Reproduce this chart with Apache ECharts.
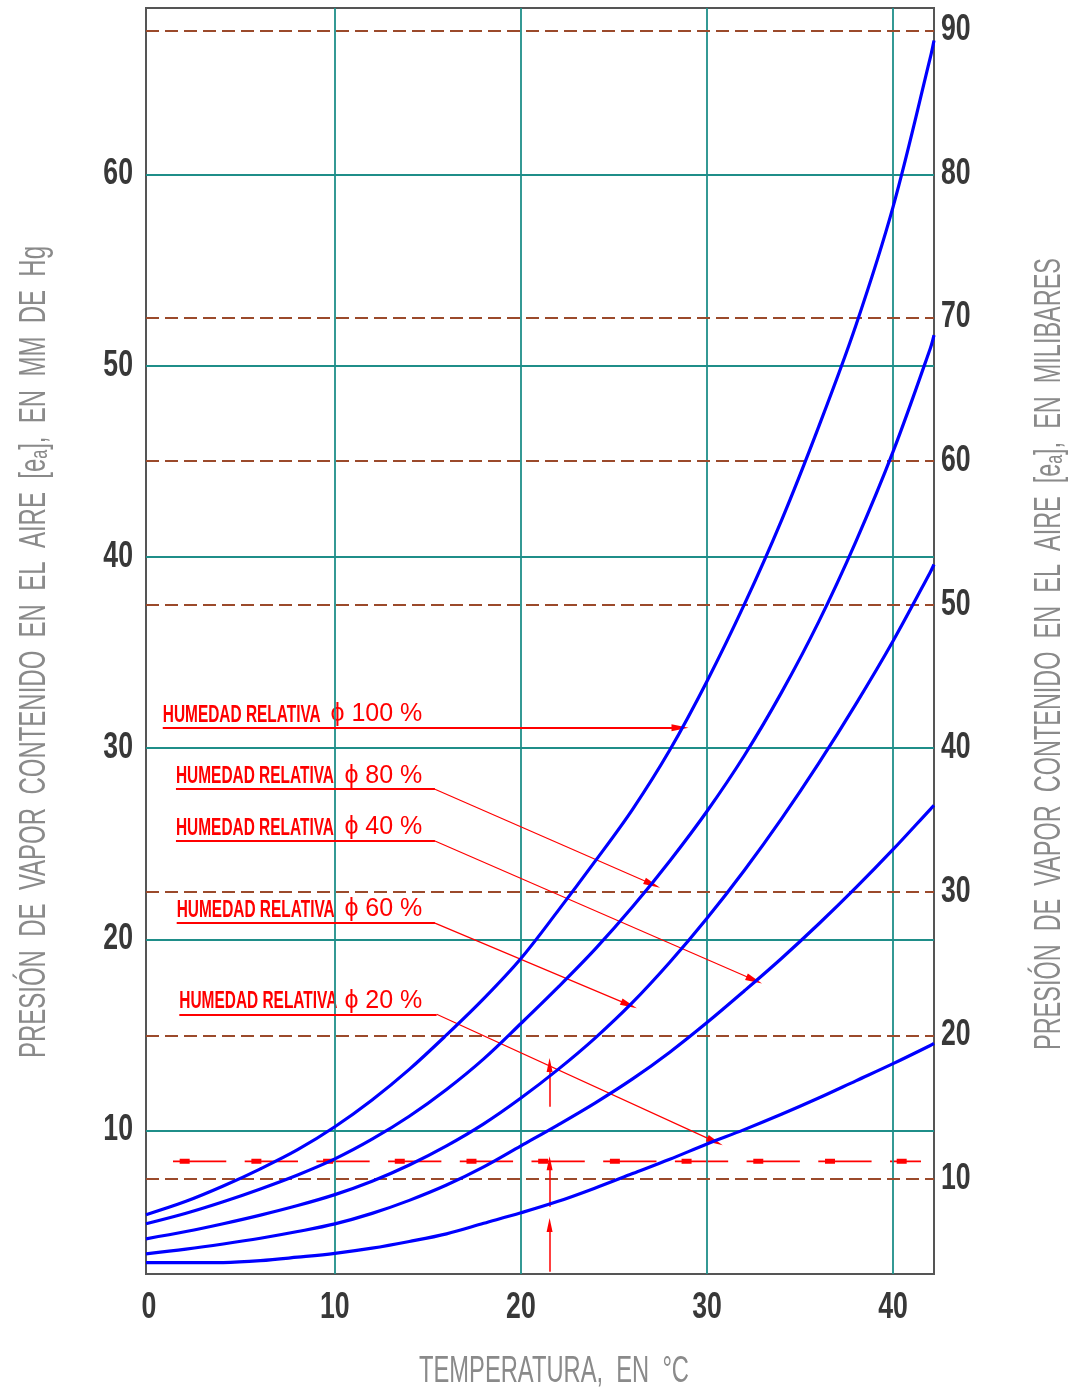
<!DOCTYPE html>
<html>
<head>
<meta charset="utf-8">
<script src="https://cdn.jsdelivr.net/npm/echarts@6/dist/echarts.min.js"></script>
<style>html,body{margin:0;padding:0;background:#fff}#c{width:1081px;height:1395px}</style>
</head>
<body>
<div id="c"></div>
<script>
// ---- data (temperature in °C, vapour pressure in mm Hg) ----
const temps = [-0.15,2,4,6,8,10,12,14,16,18,20,22,24,26,28,30,32,34,36,38,40,42,42.2];
const rh100 = [5.6,6.3,7.1,8.0,9.0,10.2,11.6,13.2,15.0,16.9,19.0,21.5,24.1,26.8,29.9,33.5,37.5,41.9,46.8,52.1,58.3,66.1,67.0];
const rh80  = [5.13,5.68,6.28,6.95,7.68,8.52,9.55,10.75,12.15,13.75,15.6,17.5,19.5,21.7,24.1,26.7,29.6,32.9,36.6,40.8,45.5,50.9,51.6];
const rh60  = [4.34,4.72,5.13,5.58,6.08,6.65,7.35,8.2,9.2,10.35,11.7,13.2,14.85,16.7,18.8,21.1,23.6,26.3,29.2,32.3,35.6,39.2,39.6];
const rh40  = [3.55,3.8,4.07,4.37,4.72,5.12,5.67,6.35,7.15,8.1,9.2,10.3,11.45,12.7,14.1,15.65,17.3,19.0,20.8,22.7,24.7,26.8,27.0];
const rh20  = [3.09,3.09,3.1,3.2,3.38,3.58,3.85,4.2,4.6,5.15,5.7,6.3,7.0,7.75,8.5,9.3,10.05,10.85,11.7,12.6,13.5,14.45,14.56];

// axis ticks / grid values
const xTickLabels   = [0,10,20,30,40];
const xGrid         = [10,20,30,40];
const mmTickLabels  = [10,20,30,40,50,60];
const mmGrid        = [10,20,30,40,50,60];
const mbarTickLabels= [10,20,30,40,50,60,70,80,90];
const mbarDashed    = [10,20,30,50,60,70,90];

// annotations (data coordinates)
const dewLineT = [1.3, 41.5];
const dewLineV = 8.39;
const arrowT = 21.54;
const arrowFrom = [2.62, 6.02, 11.25];
const arrowTo   = [5.06, 8.29, 13.43];

const leaderText   = ['100 %','80 %','40 %','60 %','20 %'];
const leaderV      = [31.07, 27.85, 25.14, 20.85, 16.08];
const leaderStartT = [0.75, 1.46, 1.46, 1.5, 1.64];
const leaderKinkT  = [28.55, 15.38, 15.38, 15.38, 15.47];
const leaderTipT   = [28.55, 27.06, 32.54, 25.81, 30.43];
const leaderTipV   = [31.07, 22.88, 17.87, 16.57, 9.42];
const labelRightT  = 14.7;

const TEAL = '#1F8E89', BROWN = '#9B4A2B', RED = '#FF0000', BLUE = '#0000FF';
const TXTFONT = "'Liberation Sans',Arial,sans-serif";

const chart = echarts.init(document.getElementById('c'));

function curve(name, vals) {
  return {
    name: name, type: 'line', xAxisIndex: 0, yAxisIndex: 0,
    data: temps.map((t, i) => [t, vals[i]]),
    symbol: 'none', showSymbol: false, smooth: 0.35, silent: true, z: 5,
    lineStyle: { color: BLUE, width: 3.2 }
  };
}

const markLines = [];
for (let i = 0; i < arrowFrom.length; i++) {
  markLines.push([
    { coord: [arrowT, arrowFrom[i]], lineStyle: { color: RED, width: 1.5, type: 'solid' } },
    { coord: [arrowT, arrowTo[i]], symbol: 'triangle', symbolSize: [6, 14] }
  ]);
}
for (let i = 0; i < leaderV.length; i++) {
  if (leaderKinkT[i] === leaderTipT[i]) {
    markLines.push([
      { coord: [leaderStartT[i], leaderV[i]], lineStyle: { color: RED, width: 2, type: 'solid' } },
      { coord: [leaderTipT[i], leaderTipV[i]], symbol: 'triangle', symbolSize: [7, 17] }
    ]);
  } else {
    markLines.push([
      { coord: [leaderStartT[i], leaderV[i]], lineStyle: { color: RED, width: 2, type: 'solid' } },
      { coord: [leaderKinkT[i], leaderV[i]] }
    ]);
    markLines.push([
      { coord: [leaderKinkT[i], leaderV[i]], lineStyle: { color: RED, width: 1.2, type: 'solid' } },
      { coord: [leaderTipT[i], leaderTipV[i]], symbol: 'triangle', symbolSize: [7, 17] }
    ]);
  }
}

const hiddenAxisParts = { axisLine: { show: false }, axisTick: { show: false }, splitLine: { show: false }, axisLabel: { show: false } };

const option = {
  animation: false,
  backgroundColor: '#fff',
  grid: { left: 146, top: 8, width: 788, height: 1266, show: true, borderColor: '#555', borderWidth: 2, backgroundColor: '#fff' },
  xAxis: Object.assign({ type: 'value', min: -0.15, max: 42.2 }, hiddenAxisParts),
  yAxis: [
    Object.assign({ type: 'value', position: 'left', min: 2.5, max: 68.7 }, hiddenAxisParts),
    Object.assign({ type: 'value', position: 'right', min: 3.38, max: 91.55 }, hiddenAxisParts)
  ],
  series: [
    {
      type: 'line', data: [], z: 1, silent: true,
      markLine: {
        symbol: ['none', 'none'], silent: true, animation: false,
        label: { show: false }, emphasis: { disabled: true },
        lineStyle: { color: TEAL, width: 1.8, type: 'solid' },
        data: xGrid.map(v => ({ xAxis: v })).concat(mmGrid.map(v => ({ yAxis: v })))
      }
    },
    {
      type: 'line', data: [], yAxisIndex: 1, z: 2, silent: true,
      markLine: {
        symbol: ['none', 'none'], silent: true, animation: false,
        label: { show: false }, emphasis: { disabled: true },
        lineStyle: { color: BROWN, width: 2, type: [13, 6] },
        data: mbarDashed.map(v => ({ yAxis: v }))
      }
    },
    {
      type: 'line', data: dewLineT.map(t => [t, dewLineV]), symbol: 'none', silent: true, z: 3,
      lineStyle: { color: RED, width: 1.6, type: [53.3, 18.4] }
    },
    {
      type: 'line', data: dewLineT.map(t => [t, dewLineV]), symbol: 'none', silent: true, z: 3,
      lineStyle: { color: RED, width: 5, type: [10, 61.7], dashOffset: 65 }
    },
    {
      type: 'line', data: [], z: 4, silent: true,
      markLine: {
        symbol: ['none', 'none'], silent: true, animation: false,
        label: { show: false }, emphasis: { disabled: true },
        itemStyle: { color: RED },
        lineStyle: { color: RED, type: 'solid' },
        data: markLines
      }
    },
    curve('100%', rh100),
    curve('80%', rh80),
    curve('60%', rh60),
    curve('40%', rh40),
    curve('20%', rh20)
  ]
};
chart.setOption(option);

// ---- texts ----
const ctx = document.createElement('canvas').getContext('2d');
function textW(text, size, fam, weight) { ctx.font = (weight || 'normal') + ' ' + size + 'px ' + fam; return ctx.measureText(text).width; }
const toPx = (t, v) => chart.convertToPixel({ xAxisIndex: 0, yAxisIndex: 0 }, [t, v]);
const mbarToPy = (m) => chart.convertToPixel({ yAxisIndex: 1 }, m);

const graphics = [];

// tick labels (positions come from the axes' scales)
const NUM_SIZE = 36, NUM_COLOR = '#383838', NUM_SCALE = 0.74;
function numText(str, x, y, align) {
  return { type: 'text', x: x, y: y, scaleX: NUM_SCALE, silent: true,
    style: { text: str, fontFamily: TXTFONT, fontSize: NUM_SIZE, fontWeight: 'bold', fill: NUM_COLOR, align: align, verticalAlign: 'middle' } };
}
const gridRect = chart.getModel().getComponent('grid').coordinateSystem.getRect();
const bottomY = gridRect.y + gridRect.height;
const leftX = gridRect.x, rightX = gridRect.x + gridRect.width;
xTickLabels.forEach(v => { graphics.push(numText(String(v), toPx(v, 10)[0], bottomY + 34, 'center')); });
mmTickLabels.forEach(v => { graphics.push(numText(String(v), leftX - 13, toPx(10, v)[1], 'right')); });
mbarTickLabels.forEach(v => { graphics.push(numText(String(v), rightX + 7, mbarToPy(v), 'left')); });

// relative humidity labels
const HR = 'HUMEDAD RELATIVA';
const hrScale = 158 / textW(HR, 24, TXTFONT, 'bold');
const labRight = toPx(labelRightT, 10)[0];
for (let i = 0; i < leaderV.length; i++) {
  const p = toPx(leaderStartT[i], leaderV[i]);
  const yc = p[1] - 12.6;
  graphics.push({ type: 'text', x: p[0], y: yc, scaleX: hrScale, silent: true,
    style: { text: HR, fontFamily: TXTFONT, fontSize: 24, fontWeight: 'bold', fill: RED, align: 'left', verticalAlign: 'middle' } });
  graphics.push({ type: 'text', x: labRight, y: yc - 1, silent: true,
    style: { text: '\u03D5 ' + leaderText[i], fontFamily: TXTFONT, fontSize: 25, fill: RED, align: 'right', verticalAlign: 'middle' } });
}

// axis titles
const TITLE_GRAY = '#8a8a8a';
const xTitle = 'TEMPERATURA,  EN  \u00B0C';
graphics.push({ type: 'text', x: 419, y: 1371.5, silent: true, scaleX: 270 / textW(xTitle, 37, TXTFONT),
  style: { text: xTitle, fontFamily: TXTFONT, fontSize: 37, fill: TITLE_GRAY, align: 'left', verticalAlign: 'middle' } });
const lTitle = 'PRESI\u00D3N  DE  VAPOR  CONTENIDO  EN  EL  AIRE  [e\u2090],  EN  MM  DE  Hg';
graphics.push({ type: 'text', x: 35, y: 652, rotation: Math.PI / 2, silent: true, scaleX: 812 / textW(lTitle, 36, TXTFONT),
  style: { text: lTitle, fontFamily: TXTFONT, fontSize: 36, fill: TITLE_GRAY, align: 'center', verticalAlign: 'middle' } });
const rTitle = 'PRESI\u00D3N  DE  VAPOR  CONTENIDO  EN  EL  AIRE  [e\u2090],  EN  MILIBARES';
graphics.push({ type: 'text', x: 1050, y: 654, rotation: Math.PI / 2, silent: true, scaleX: 792 / textW(rTitle, 36, TXTFONT),
  style: { text: rTitle, fontFamily: TXTFONT, fontSize: 36, fill: TITLE_GRAY, align: 'center', verticalAlign: 'middle' } });

chart.setOption({ graphic: graphics });
</script>
</body>
</html>
